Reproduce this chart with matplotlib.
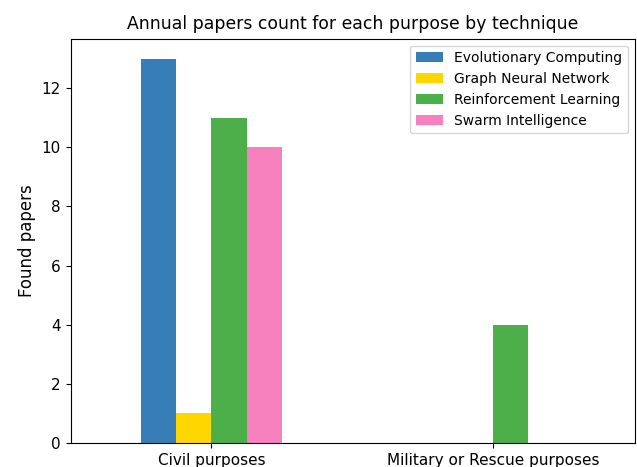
import numpy as np
import matplotlib.pyplot as plt

purposes = ['Civil purposes', 'Military or Rescue purposes']
techniques = ['Evolutionary Computing', 'Graph Neural Network',
              'Reinforcement Learning', 'Swarm Intelligence']
counts = {
    'Evolutionary Computing': [13, 0],
    'Graph Neural Network': [1, 0],
    'Reinforcement Learning': [11, 4],
    'Swarm Intelligence': [10, 0],
}
colors = ['#377eb8', '#ffd700', '#4daf4a', '#f781bf']

x = np.arange(len(purposes))
width = 0.125

fig = plt.figure(figsize=(6.37, 4.67), dpi=100)
ax = fig.add_axes([0.111, 0.0514, 0.886, 0.866])

for i, tech in enumerate(techniques):
    ax.bar(x + i * width, counts[tech], width, label=tech, color=colors[i])

ax.set_xticks(x + 1.5 * width)
ax.set_xticklabels(purposes, fontsize=11)
ax.tick_params(axis='y', labelsize=11)
ax.set_xlim(-0.312, 1.692)
ax.set_ylim(0, 13.68)
ax.set_ylabel('Found papers', fontsize=12)
ax.set_title('Annual papers count for each purpose by technique', fontsize=12.4, pad=7)
ax.legend(loc='upper right', fontsize=10)

fig.savefig('out.png', dpi=100)
